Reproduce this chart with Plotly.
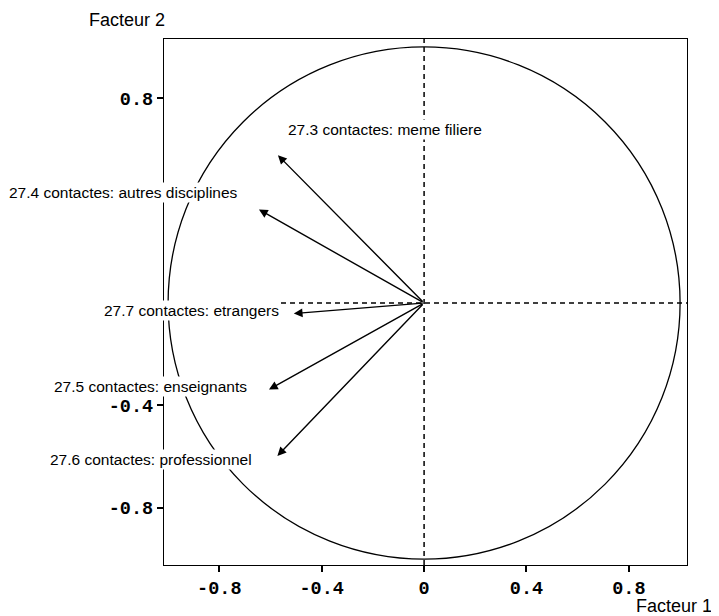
import plotly.graph_objects as go

# --- data: variable coordinates on factors 1 and 2 ---
variables = [
    "27.3 contactes: meme filiere",
    "27.4 contactes: autres disciplines",
    "27.7 contactes: etrangers",
    "27.5 contactes: enseignants",
    "27.6 contactes: professionnel",
]
facteur1 = [-0.571, -0.645, -0.509, -0.606, -0.573]
facteur2 = [0.577, 0.365, -0.041, -0.338, -0.597]

tick_vals = [-0.8, -0.4, 0, 0.4, 0.8]
x_tick_text = ["-0.8", "-0.4", "0", "0.4", "0.8"]
y_tick_text = ["-0.8", "-0.4", "", "", "0.8"]

# label placement (pixels, relative to arrow tip)
label_anchor = ["left", "right", "right", "right", "right"]
label_dx = [8, -19, -13, -20, -23]
label_dy = [26, 17, 3, 3, -4]

label_font = dict(family="Liberation Sans, Arial", size=15.5, color="black")
title_font = dict(family="Liberation Sans, Arial", size=18, color="black")
tick_font = dict(family="Liberation Mono, Courier New", size=18.5, color="black", weight="bold")

fig = go.Figure()

# correlation circle
fig.add_shape(type="circle", xref="x", yref="y", x0=-1, y0=-1, x1=1, y1=1,
              line=dict(color="black", width=1.3))
# dashed axes through origin
fig.add_shape(type="line", xref="x", yref="paper", x0=0, x1=0, y0=0, y1=1,
              line=dict(color="black", width=1.5, dash="5px,4px"))
fig.add_shape(type="line", xref="paper", yref="y", x0=0, x1=1, y0=0, y1=0,
              line=dict(color="black", width=1.5, dash="5px,4px"))

annotations = []
for name, fx, fy, anc, dx, dy in zip(variables, facteur1, facteur2,
                                     label_anchor, label_dx, label_dy):
    # arrow from the origin to the variable
    annotations.append(dict(
        x=fx, y=fy, xref="x", yref="y", ax=0, ay=0, axref="x", ayref="y",
        text="", showarrow=True, arrowhead=2, arrowsize=1.25, arrowwidth=1.4,
        arrowcolor="black", standoff=0, startstandoff=0,
    ))
    annotations.append(dict(
        x=fx, y=fy, xref="x", yref="y", text=name, showarrow=False,
        xanchor=anc, yanchor="middle", xshift=dx, yshift=dy,
        bgcolor="white", borderpad=1, font=label_font,
    ))

annotations.append(dict(x=0, y=1, xref="paper", yref="paper", text="Facteur 2",
                        showarrow=False, xanchor="right", yanchor="middle",
                        xshift=3, yshift=19, font=title_font))
annotations.append(dict(x=1, y=0, xref="paper", yref="paper", text="Facteur 1",
                        showarrow=False, xanchor="right", yanchor="middle",
                        xshift=27, yshift=-41, font=title_font))

fig.update_layout(
    width=719, height=616,
    margin=dict(l=156, r=40, t=31, b=59),
    paper_bgcolor="white", plot_bgcolor="white",
    showlegend=False,
    annotations=annotations,
)

fig.update_xaxes(range=[-1.016, 1.027], tickvals=tick_vals, ticktext=x_tick_text,
                 showgrid=False, zeroline=False, showline=True, mirror=True,
                 linecolor="black", linewidth=1.3, ticks="outside", ticklen=6,
                 tickcolor="black", tickwidth=1.5, tickfont=tick_font)
fig.update_yaxes(range=[-1.023, 1.031], tickvals=tick_vals, ticktext=y_tick_text,
                 showgrid=False, zeroline=False, showline=True, mirror=True,
                 linecolor="black", linewidth=1.3, ticks="outside", ticklen=6,
                 tickcolor="black", tickwidth=1.5, tickfont=tick_font)

fig.write_html("out.html")
